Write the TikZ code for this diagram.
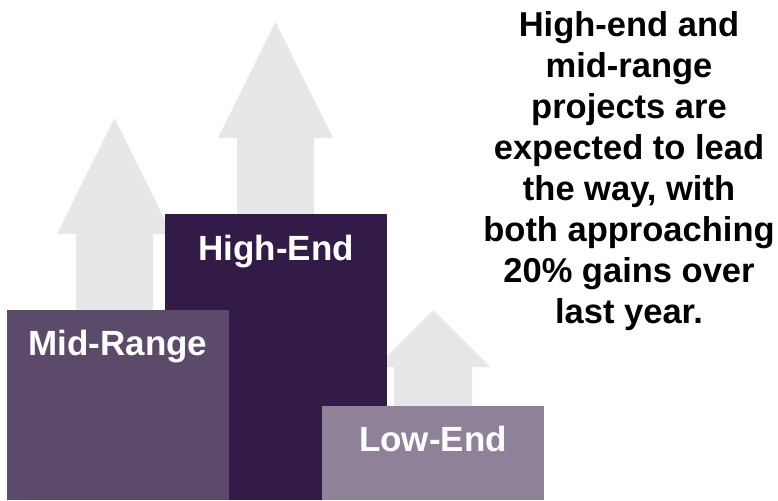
\documentclass[tikz,border=0pt]{standalone}
\usepackage{fontspec}
\setmainfont{Liberation Sans}
\definecolor{arrowgray}{RGB}{230,231,233}
\definecolor{highc}{RGB}{50,28,71}
\definecolor{midc}{RGB}{92,74,107}
\definecolor{lowc}{RGB}{143,130,152}
\tikzset{
  uparrow/.style={fill=arrowgray, draw=none},
  bar/.style={draw=none, inner sep=0pt, outer sep=0pt},
  barlabel/.style={text=white, font=\fontsize{35}{40}\selectfont\bfseries, inner sep=0pt, anchor=base},
  bodytext/.style={text=black, font=\fontsize{34.5}{41}\selectfont\bfseries, align=center, inner sep=0pt, anchor=north}
}
\begin{document}
\begin{tikzpicture}[x=1pt,y=-1pt]
\useasboundingbox (0,0) rectangle (778,500);
% arrows
\fill[uparrow] (114.5,118) -- (172,234) -- (153,234) -- (153,320) -- (76,320) -- (76,234) -- (57,234) -- cycle;
\fill[uparrow] (275.5,22) -- (333,138) -- (314,138) -- (314,230) -- (237,230) -- (237,138) -- (218,138) -- cycle;
\fill[uparrow] (433,310) -- (490,367) -- (472,367) -- (472,415) -- (394,415) -- (394,367) -- (376,367) -- cycle;
% bars
\fill[highc] (165,214) rectangle (387,500);
\fill[midc] (7,310) rectangle (229,500);
\fill[lowc] (322,406) rectangle (544,500);
% labels
\node[barlabel] (hl) at (276,260) {High-End};
\node[barlabel] (ml) at (118,355) {Mid-Range};
\node[barlabel] (ll) at (433,451) {Low-End};
% body text
\node[bodytext] (txt) at (629,11) {High-end and\\mid-range\\projects are\\expected to lead\\the way, with\\both approaching\\20\% gains over\\last year.};
\end{tikzpicture}
\end{document}
